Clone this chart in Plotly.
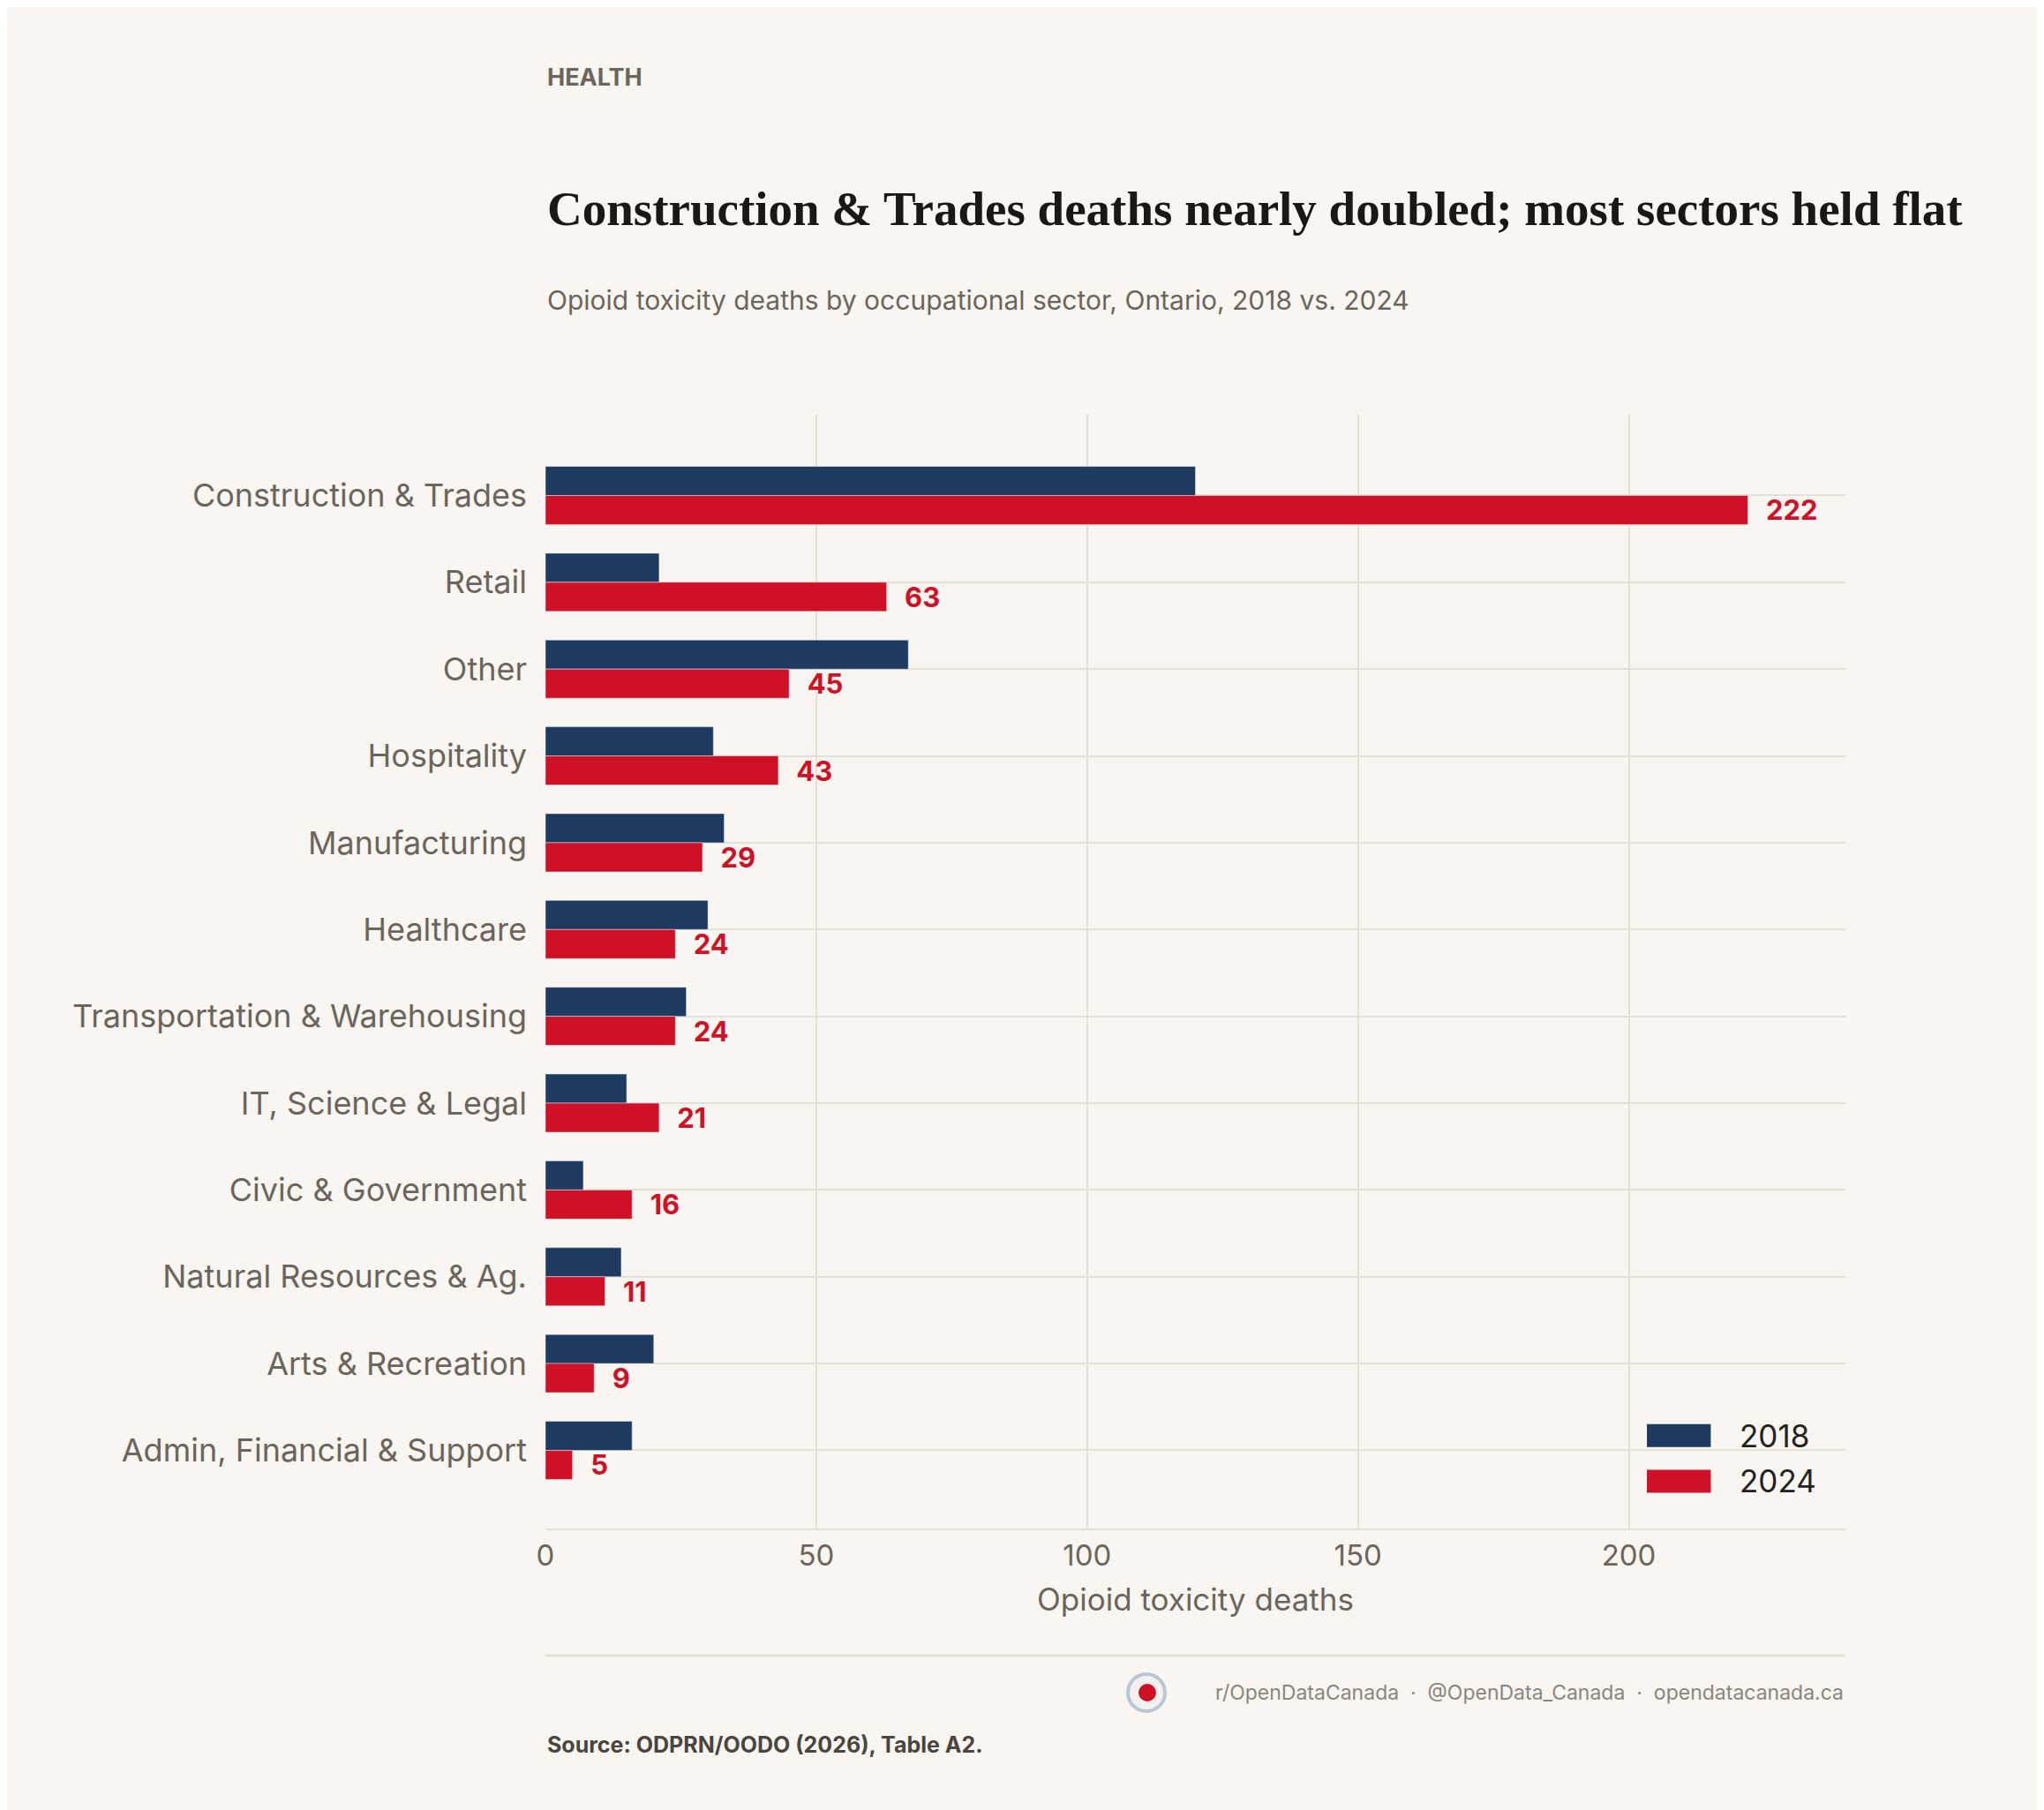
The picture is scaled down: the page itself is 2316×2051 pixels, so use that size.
import plotly.graph_objects as go

sectors = ["Construction & Trades", "Retail", "Other", "Hospitality", "Manufacturing",
           "Healthcare", "Transportation & Warehousing", "IT, Science & Legal",
           "Civic & Government", "Natural Resources & Ag.", "Arts & Recreation",
           "Admin, Financial & Support"]
deaths_2018 = [120, 21, 67, 31, 33, 30, 26, 15, 7, 14, 20, 16]
deaths_2024 = [222, 63, 45, 43, 29, 24, 24, 21, 16, 11, 9, 5]
series_names = ["2018", "2024"]

W, H = 2316, 2051
L, R, T, B = 610, 233, 462, 327
BG = "#f9f6f1"
NAVY = "#1f3a60"
RED = "#cf1127"
SANS = "Inter, Noto Sans, sans-serif"
S = 1.477

fig = go.Figure()
fig.add_trace(go.Bar(y=sectors, x=deaths_2018, orientation="h", name=series_names[0],
                     marker_color=NAVY, showlegend=False))
fig.add_trace(go.Bar(y=sectors, x=deaths_2024, orientation="h", name=series_names[1],
                     marker_color=RED, text=["\u00a0\u00a0<b>" + str(v) + "</b>" for v in deaths_2024],
                     textposition="outside", cliponaxis=False, showlegend=False,
                     constraintext="none",
                     textfont=dict(family=SANS, size=31, color=RED)))

def py(p):  # paper y from pixel
    return 1 - (p - T) / (H - T - B)
def px_(x):
    return (x - L) / (W - L - R)

fig.update_layout(
    width=W, height=H, paper_bgcolor=BG, plot_bgcolor=BG,
    margin=dict(l=L, r=R, t=T, b=B),
    barmode="group", bargap=0.33, bargroupgap=0,
    font=dict(family=SANS, color="#6b655d"),
    xaxis=dict(range=[0, 240], tickvals=[0, 50, 100, 150, 200], showgrid=True,
               gridcolor="#e4e0da", gridwidth=2, zeroline=False, showline=True,
               linecolor="#e4e0da", linewidth=2, ticks="",
               tickfont=dict(size=33, color="#6b655d"),
               title=dict(text="Opioid toxicity deaths", font=dict(size=35, color="#6b655d"), standoff=20)),
    yaxis=dict(range=[11.9, -0.93], showgrid=True, gridcolor="#e4e0da", gridwidth=2,
               ticks="", ticklabelstandoff=20, tickfont=dict(size=36, color="#6b655d")),
    showlegend=False,
)

ann = [
    dict(text="<b>HEALTH</b>", x=0, y=py(80), font=dict(size=27, color="#6b655d")),
    dict(text="<b>Construction & Trades deaths nearly doubled; most sectors held flat</b>",
         x=0, y=py(229), font=dict(size=55, color="#1a1714", family="Liberation Serif, DejaVu Serif, serif")),
    dict(text="Opioid toxicity deaths by occupational sector, Ontario, 2018 vs. 2024",
         x=0, y=py(332), font=dict(size=30, color="#6b655d")),
    dict(text="r/OpenDataCanada  ·  @OpenData_Canada  ·  opendatacanada.ca",
         x=1, xanchor="right", y=py(1910), font=dict(size=23, color="#8a857e")),
    dict(text="<b>Source: ODPRN/OODO (2026), Table A2.</b>",
         x=0, y=py(1969), font=dict(size=25, color="#4a453f")),
]
# custom legend
for i, (nm, col) in enumerate(zip(series_names, [NAVY, RED])):
    yc = (1096 + i * 35) * S
    fig.add_shape(type="rect", xref="paper", yref="paper",
                  x0=px_(1258 * S), x1=px_(1307 * S), y0=py(yc - 13), y1=py(yc + 13),
                  line=dict(width=0), fillcolor=col)
    ann.append(dict(text=nm, x=px_(1328 * S), y=py(yc), font=dict(size=35, color="#222")))

for a in ann:
    a.setdefault("xanchor", "left")
    fig.add_annotation(xref="paper", yref="paper", yanchor="middle", showarrow=False, **a)

fig.add_shape(type="line", xref="paper", yref="paper", x0=0, x1=1, y0=py(1868), y1=py(1868),
              line=dict(color="#e4e0da", width=3))
fig.add_shape(type="circle", xref="paper", yref="paper",
              x0=px_(1270), x1=px_(1312), y0=py(1931), y1=py(1889),
              line=dict(color="#b9c6d8", width=4), fillcolor="#f3f1ee")
fig.add_shape(type="circle", xref="paper", yref="paper",
              x0=px_(1282), x1=px_(1302), y0=py(1920), y1=py(1900),
              line=dict(width=0), fillcolor=RED)

fig.write_html("out.html")
